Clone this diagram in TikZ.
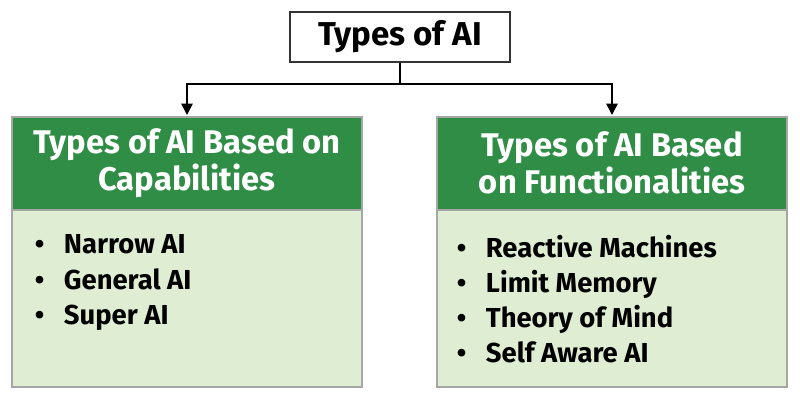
\documentclass[tikz,border=0pt]{standalone}
\usepackage{fontspec}
\setmainfont{Fira Sans}
\usetikzlibrary{positioning, arrows.meta}
\definecolor{gfgGreen}{HTML}{2F8D46}
\definecolor{gfgLight}{HTML}{DFEED3}
\begin{document}
\begin{tikzpicture}[x=0.025cm, y=-0.025cm,
    box/.style={draw=gray!70, line width=0.8pt},
    head/.style={text=white, font=\fontsize{23.3}{26}\selectfont\bfseries, align=center},
    item/.style={font=\fontsize{19.5}{25}\selectfont\bfseries, align=left, anchor=north west}]
    \useasboundingbox (0,0) rectangle (800,400);
    % top box
    \node[draw=black!80, line width=0.8pt, fill=white, minimum width=5.5cm, minimum height=1.25cm,
          font=\fontsize{23.5}{26}\selectfont\bfseries] (top) at (400,37) {Types of AI};
    % left column
    \fill[gfgLight] (12,117) rectangle (362,387);
    \fill[gfgGreen] (12,117) rectangle (362,210);
    \draw[box] (12,117) rectangle (362,387);
    \draw[box] (12,210) -- (362,210);
    \node[head] (capHead) at (187,163) {Types of AI Based on\\Capabilities};
    \node[item] (capList) at (30,230) {\textbullet\ \ \ Narrow AI\\\textbullet\ \ \ General AI\\\textbullet\ \ \ Super AI};
    % right column
    \fill[gfgLight] (437,117) rectangle (787,387);
    \fill[gfgGreen] (437,117) rectangle (787,210);
    \draw[box] (437,117) rectangle (787,387);
    \draw[box] (437,210) -- (787,210);
    \node[head] (funHead) at (612,163) {Types of AI Based\\on Functionalities};
    \node[item] (funList) at (452,230) {\textbullet\ \ \ Reactive Machines\\\textbullet\ \ \ Limit Memory\\\textbullet\ \ \ Theory of Mind\\\textbullet\ \ \ Self Aware AI};
    % connectors
    \coordinate (mid) at (400,84);
    \coordinate (capTop) at (187,115);
    \coordinate (funTop) at (612,115);
    \draw[line width=1.2pt] (top.south) -- (mid);
    \draw[line width=1.2pt, -{Triangle[length=8pt, width=8pt]}] (mid) -| (capTop);
    \draw[line width=1.2pt, -{Triangle[length=8pt, width=8pt]}] (mid) -| (funTop);
\end{tikzpicture}
\end{document}
